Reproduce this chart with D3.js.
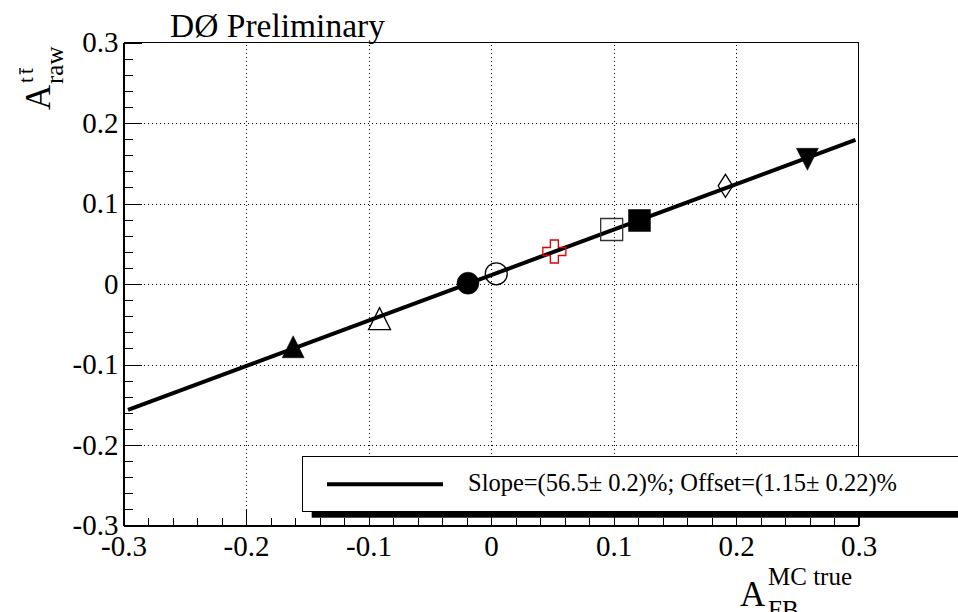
<!DOCTYPE html>
<html>
<head>
<meta charset="utf-8">
<script src="https://cdn.jsdelivr.net/npm/d3@7"></script>
<style>
  html, body { margin: 0; padding: 0; background: #fff; }
  svg { display: block; }
</style>
</head>
<body>
<svg id="chart" width="958" height="612"></svg>
<script>
// ---------------- data ----------------
const pointX = [-0.1615, -0.091, -0.0188, 0.0043, 0.0517, 0.0985, 0.1212, 0.1914, 0.2583];
const pointY = [-0.078, -0.043, 0.001, 0.0127, 0.0404, 0.0677, 0.0789, 0.122, 0.1549];
const pointMarker = ["triUpFilled", "triUpOpen", "circleFilled", "circleOpen", "crossOpen",
                     "squareOpen", "squareFilled", "diamondOpen", "triDownFilled"];
const pointColor = ["#000", "#000", "#000", "#000", "#e00000", "#333", "#000", "#000", "#000"];

const fitX = [-0.2963, 0.2975];
const fitY = [-0.1563, 0.179];

const xMajorTicks = [-0.3, -0.2, -0.1, 0, 0.1, 0.2, 0.3];
const xTickLabels = ["-0.3", "-0.2", "-0.1", "0", "0.1", "0.2", "0.3"];
const yMajorTicks = [-0.3, -0.2, -0.1, 0, 0.1, 0.2, 0.3];
const yTickLabels = ["-0.3", "-0.2", "-0.1", "0", "0.1", "0.2", "0.3"];
const gridX = [-0.2, -0.1, 0, 0.1, 0.2];
const gridY = [-0.2, -0.1, 0, 0.1, 0.2];
const minorTicks = d3.range(-15, 16).map(i => i * 0.02);

const titleText = "DØ Preliminary";
const legendText = "Slope=(56.5\u00B1 0.2)%; Offset=(1.15\u00B1 0.22)%";

// ---------------- pick an installed serif font ----------------
function pickSerif() {
  const c = document.createElement("canvas").getContext("2d");
  const probe = "Preliminary Offset 0123456789 WMmwil";
  c.font = "40px monospace"; const wMono = c.measureText(probe).width;
  c.font = "40px sans-serif"; const wSans = c.measureText(probe).width;
  const cands = ["Liberation Serif", "Tinos", "Times New Roman", "Nimbus Roman", "Nimbus Roman No9 L",
                 "FreeSerif", "Noto Serif", "DejaVu Serif"];
  for (const f of cands) {
    c.font = `40px "${f}", monospace`; const a = c.measureText(probe).width;
    c.font = `40px "${f}", sans-serif`; const b = c.measureText(probe).width;
    if (Math.abs(a - wMono) > 0.5 || Math.abs(b - wSans) > 0.5) {
      if (Math.abs(a - b) < 0.5) return `"${f}"`;
    }
  }
  return "serif";
}
const FONT = pickSerif();

// ---------------- layout ----------------
const L = 123.5, R = 858.5, T = 42.5, B = 525.5;
const svg = d3.select("#chart");
const x = d3.scaleLinear().domain([-0.3, 0.3]).range([L, R]);
const y = d3.scaleLinear().domain([-0.3, 0.3]).range([B, T]);

// grid
const gx = svg.append("g").attr("transform", `translate(0,${B})`)
  .call(d3.axisBottom(x).tickValues(gridX).tickSize(-(B - T)).tickFormat(""));
gx.select(".domain").remove();
gx.selectAll("line").attr("stroke", "#000").attr("stroke-width", 1).attr("stroke-dasharray", "1,3")
  .attr("shape-rendering", "crispEdges");
const gy = svg.append("g").attr("transform", `translate(${L},0)`)
  .call(d3.axisLeft(y).tickValues(gridY).tickSize(-(R - L)).tickFormat(""));
gy.select(".domain").remove();
gy.selectAll("line").attr("stroke", "#000").attr("stroke-width", 1).attr("stroke-dasharray", "1,3")
  .attr("shape-rendering", "crispEdges");

// frame top/right
svg.append("line").attr("x1", L).attr("x2", R).attr("y1", T).attr("y2", T).attr("stroke", "#000")
  .attr("stroke-width", 1.2).attr("shape-rendering", "crispEdges");
svg.append("line").attr("x1", R).attr("x2", R).attr("y1", T).attr("y2", B).attr("stroke", "#000")
  .attr("stroke-width", 1.2).attr("shape-rendering", "crispEdges");

// x axis
const xMinor = svg.append("g").attr("transform", `translate(0,${B})`)
  .call(d3.axisBottom(x).tickValues(minorTicks).tickSize(-8).tickSizeOuter(0).tickFormat(""));
xMinor.select(".domain").remove();
xMinor.selectAll("line").attr("shape-rendering", "crispEdges");
const xAx = svg.append("g").attr("transform", `translate(0,${B})`)
  .call(d3.axisBottom(x).tickValues(xMajorTicks).tickSize(-16).tickSizeOuter(0).tickPadding(10)
    .tickFormat((d, i) => xTickLabels[i]));
xAx.select(".domain").attr("stroke-width", 2);
xAx.selectAll("line").attr("shape-rendering", "crispEdges");
xAx.attr("font-family", null).attr("font-size", null);
xAx.selectAll("text").attr("font-family", FONT).attr("font-size", "29px").attr("fill", "#000");

// y axis
const yMinor = svg.append("g").attr("transform", `translate(${L},0)`)
  .call(d3.axisLeft(y).tickValues(minorTicks).tickSize(-9).tickSizeOuter(0).tickFormat(""));
yMinor.select(".domain").remove();
yMinor.selectAll("line").attr("shape-rendering", "crispEdges");
const yAx = svg.append("g").attr("transform", `translate(${L},0)`)
  .call(d3.axisLeft(y).tickValues(yMajorTicks).tickSize(-18).tickSizeOuter(0).tickPadding(5)
    .tickFormat((d, i) => yTickLabels[i]));
yAx.select(".domain").attr("stroke-width", 2);
yAx.selectAll("line").attr("shape-rendering", "crispEdges");
yAx.attr("font-family", null).attr("font-size", null);
yAx.selectAll("text").attr("font-family", FONT).attr("font-size", "29px").attr("fill", "#000");

// fit line
svg.append("path")
  .datum(fitX.map((d, i) => [d, fitY[i]]))
  .attr("d", d3.line().x(d => x(d[0])).y(d => y(d[1])))
  .attr("fill", "none").attr("stroke", "#000").attr("stroke-width", 4);

// markers
function markerPath(type) {
  const h = 11;
  switch (type) {
    case "triUpFilled": case "triUpOpen":
      return `M0,${-h}L${h},${h}L${-h},${h}Z`;
    case "triDownFilled":
      return `M0,${h}L${h},${-h}L${-h},${-h}Z`;
    case "circleFilled": case "circleOpen":
      return d3.arc()({innerRadius: 0, outerRadius: h, startAngle: 0, endAngle: 2 * Math.PI});
    case "squareFilled": case "squareOpen":
      return `M${-h},${-h}H${h}V${h}H${-h}Z`;
    case "diamondOpen": {
      const w = 7.3, v = 11.5;
      return `M0,${-v}L${w},0L0,${v}L${-w},0Z`;
    }
    case "crossOpen": {
      const a = 11.5, b = 4;
      return `M${-b},${-a}H${b}V${-b}H${a}V${b}H${b}V${a}H${-b}V${b}H${-a}V${-b}H${-b}Z`;
    }
  }
}
const pts = pointX.map((d, i) => ({x: d, y: pointY[i], m: pointMarker[i], c: pointColor[i]}));
svg.append("g").selectAll("path").data(pts).join("path")
  .attr("transform", d => `translate(${x(d.x)},${y(d.y)})`)
  .attr("d", d => markerPath(d.m))
  .attr("fill", d => d.m.endsWith("Filled") ? d.c : "none")
  .attr("stroke", d => d.c)
  .attr("stroke-width", d => d.m.endsWith("Filled") ? 0.5 : 1.3);

// legend (box extends beyond right edge, with shadow)
svg.append("rect").attr("x", 311.7).attr("y", 462).attr("width", 700).attr("height", 55.7).attr("fill", "#000");
svg.append("rect").attr("x", 302.5).attr("y", 456.5).attr("width", 700).attr("height", 55)
  .attr("fill", "#fff").attr("stroke", "#000").attr("stroke-width", 1);
svg.append("line").attr("x1", 327).attr("x2", 443).attr("y1", 484.3).attr("y2", 484.3)
  .attr("stroke", "#000").attr("stroke-width", 4);
svg.append("text").attr("x", 468).attr("y", 491).attr("font-family", FONT)
  .attr("font-size", "24.5px").attr("fill", "#000").text(legendText);

// title
svg.append("text").attr("x", 170).attr("y", 37).attr("font-family", FONT).attr("font-size", "33.5px")
  .attr("fill", "#000").text(titleText);

// y axis title: A^{t tbar}_{raw}
const yt = svg.append("g").attr("transform", "translate(50,110) rotate(-90)").attr("font-family", FONT);
yt.append("text").attr("x", 0).attr("y", 0).attr("font-size", "35px").text("A");
yt.append("text").attr("x", 26).attr("y", 12.5).attr("font-size", "25px").text("raw");
yt.append("text").attr("x", 27).attr("y", -17).attr("font-size", "21px").text("t");
yt.append("text").attr("x", 36).attr("y", -17).attr("font-size", "21px").text("t");
yt.append("line").attr("x1", 35.8).attr("x2", 42).attr("y1", -30).attr("y2", -30)
  .attr("stroke", "#000").attr("stroke-width", 1.4);

// x axis title: A^{MC true}_{FB}
const xt = svg.append("g").attr("font-family", FONT);
xt.append("text").attr("x", 740).attr("y", 606).attr("font-size", "35px").text("A");
xt.append("text").attr("x", 768).attr("y", 585).attr("font-size", "25px").text("MC true");
xt.append("text").attr("x", 768).attr("y", 618).attr("font-size", "25px").text("FB");
</script>
</body>
</html>
